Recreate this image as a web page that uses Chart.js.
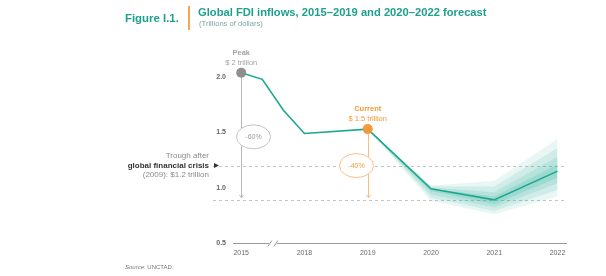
<!DOCTYPE html>
<html>
<head>
<meta charset="utf-8">
<script src="https://cdn.jsdelivr.net/npm/chart.js@4.4.0/dist/chart.umd.min.js"></script>
<style>
  body { margin: 0; background: #fff; width: 606px; height: 276px; overflow: hidden; position: relative; font-family: "Liberation Sans", Arial, sans-serif; }
  #chart { position: absolute; left: 0; top: 0; }
  .fig { position: absolute; left: 125px; top: 12px; font-weight: bold; font-size: 11.4px; color: #1fa08e; }
  .bar { position: absolute; left: 188px; top: 6px; width: 2px; height: 24px; background: #f5a556; }
  .title { position: absolute; left: 198px; top: 6px; font-weight: bold; font-size: 11.2px; color: #1fa08e; white-space: nowrap; }
  .sub { position: absolute; left: 199px; top: 19px; font-size: 7.6px; color: #7fa8a3; white-space: nowrap; }
  .src { position: absolute; left: 125px; top: 264px; font-size: 6px; color: #777; }
  .src i { font-style: italic; }
</style>
</head>
<body>
<canvas id="chart" width="606" height="276"></canvas>
<div class="fig">Figure I.1.</div>
<div class="bar"></div>
<div class="title">Global FDI inflows, 2015–2019 and 2020–2022 forecast</div>
<div class="sub">(Trillions of dollars)</div>
<div class="src"><i>Source:</i> UNCTAD.</div>
<script>
// FDI inflows, trillions of dollars
const years = [2015, 2016, 2017, 2018, 2019, 2020, 2021, 2022];
const fdi = [2.04, 1.98, 1.70, 1.49, 1.53, 0.99, 0.89, 1.15];

// forecast uncertainty band, four layers from outer to inner
const forecastYears = [2019, 2020, 2021, 2022];
const bandHi1 = [1.53, 1.02, 1.06, 1.44];
const bandLo1 = [1.53, 0.88, 0.76, 0.92];
const bandHi2 = [1.53, 1.01, 1.01, 1.36];
const bandLo2 = [1.53, 0.91, 0.79, 0.98];
const bandHi3 = [1.53, 1.00, 0.96, 1.28];
const bandLo3 = [1.53, 0.94, 0.82, 1.04];
const bandHi4 = [1.53, 0.99, 0.92, 1.21];
const bandLo4 = [1.53, 0.97, 0.85, 1.09];

const tickYears = [2015, 2018, 2019, 2020, 2021, 2022];
const yTicks = [0.5, 1.0, 1.5, 2.0];

const troughLevel = 1.2;   // 2009 trough
const lowLevel = 0.89;     // 2021 forecast low
const peakYear = 2015;
const currentYear = 2019;

const TEAL = '#1ca88f';
const ORANGE = '#f39a3c';

// 2015-2018 is squeezed behind an axis break
function axisPos(year) {
  return year <= 2018 ? (year - 2015) / 3 : year - 2017;
}

function toPoints(xs, ys) {
  return xs.map((yr, i) => ({ x: axisPos(yr), y: ys[i] }));
}

function band(hi, lo, alpha) {
  const color = `rgba(28, 168, 143, ${alpha})`;
  return [
    { data: toPoints(forecastYears, hi), borderWidth: 0, pointRadius: 0, fill: '+1', backgroundColor: color },
    { data: toPoints(forecastYears, lo), borderWidth: 0, pointRadius: 0, fill: false }
  ];
}

const annotations = {
  id: 'annotations',
  beforeDatasetsDraw(chart) {
    const { ctx, chartArea: a, scales: { x, y } } = chart;
    ctx.save();

    // dashed reference lines
    ctx.strokeStyle = '#c4c4c4';
    ctx.lineWidth = 1;
    ctx.setLineDash([3, 3]);
    [troughLevel, lowLevel].forEach(v => {
      const py = Math.round(y.getPixelForValue(v)) + 0.5;
      ctx.beginPath();
      ctx.moveTo(213, py);
      ctx.lineTo(a.right, py);
      ctx.stroke();
    });
    ctx.setLineDash([]);

    // x axis line with break
    const by = Math.round(a.bottom) + 0.5;
    const bx = x.getPixelForValue(0.5);
    ctx.strokeStyle = '#9a9a9a';
    ctx.beginPath();
    ctx.moveTo(a.left, by); ctx.lineTo(bx - 4, by);
    ctx.moveTo(bx + 4, by); ctx.lineTo(a.right, by);
    ctx.moveTo(bx - 5, by + 3); ctx.lineTo(bx - 1, by - 3);
    ctx.moveTo(bx + 1, by + 3); ctx.lineTo(bx + 5, by - 3);
    ctx.stroke();

    const lowY = y.getPixelForValue(lowLevel) - 2;

    // drop arrows
    const drop = (year, value, color) => {
      const px = Math.round(x.getPixelForValue(axisPos(year))) + 0.5;
      ctx.strokeStyle = color;
      ctx.beginPath();
      ctx.moveTo(px, y.getPixelForValue(value));
      ctx.lineTo(px, lowY);
      ctx.moveTo(px - 2, lowY - 3);
      ctx.lineTo(px, lowY);
      ctx.lineTo(px + 2, lowY - 3);
      ctx.stroke();
      return px;
    };
    const peakX = drop(peakYear, fdi[years.indexOf(peakYear)], '#b8b8b8');
    const curX = drop(currentYear, fdi[years.indexOf(currentYear)], '#f7bd83');

    // percentage bubbles
    const bubble = (cx, cy, text, stroke, color) => {
      ctx.beginPath();
      ctx.ellipse(cx, cy, 17, 12, 0, 0, Math.PI * 2);
      ctx.fillStyle = '#fff';
      ctx.fill();
      ctx.strokeStyle = stroke;
      ctx.stroke();
      ctx.fillStyle = color;
      ctx.font = '7px "Liberation Sans", Arial, sans-serif';
      ctx.textAlign = 'center';
      ctx.textBaseline = 'middle';
      ctx.fillText(text, cx, cy);
    };
    bubble(peakX + 12, y.getPixelForValue(1.46), '-60%', '#c4c4c4', '#9a9a9a');
    bubble(curX - 12, y.getPixelForValue(troughLevel), '-40%', '#f7c08a', ORANGE);

    // trough note
    const ty = y.getPixelForValue(troughLevel);
    ctx.textAlign = 'right';
    ctx.textBaseline = 'middle';
    ctx.fillStyle = '#8a8a8a';
    ctx.font = '8px "Liberation Sans", Arial, sans-serif';
    ctx.fillText('Trough after', 209, ty - 10);
    ctx.fillText('(2009): $1.2 trillion', 209, ty + 9);
    ctx.fillStyle = '#333';
    ctx.font = 'bold 8px "Liberation Sans", Arial, sans-serif';
    ctx.fillText('global financial crisis', 209, ty);
    ctx.beginPath();
    ctx.moveTo(214, ty - 2.5); ctx.lineTo(219, ty); ctx.lineTo(214, ty + 2.5);
    ctx.closePath();
    ctx.fill();

    ctx.restore();
  },
  afterDatasetsDraw(chart) {
    const { ctx, scales: { x, y } } = chart;
    ctx.save();
    ctx.textAlign = 'center';
    ctx.textBaseline = 'middle';
    const label = (year, head, sub, color) => {
      const px = x.getPixelForValue(axisPos(year));
      const py = y.getPixelForValue(fdi[years.indexOf(year)]);
      ctx.fillStyle = color;
      ctx.font = 'bold 7.5px "Liberation Sans", Arial, sans-serif';
      ctx.fillText(head, px, py - 20);
      ctx.font = '7.5px "Liberation Sans", Arial, sans-serif';
      ctx.fillText(sub, px, py - 10);
    };
    label(peakYear, 'Peak', '$ 2 trillion', '#a3a3a3');
    label(currentYear, 'Current', '$ 1.5 trillion', ORANGE);
    ctx.restore();
  }
};

new Chart(document.getElementById('chart'), {
  type: 'line',
  data: {
    datasets: [
      ...band(bandHi1, bandLo1, 0.1),
      ...band(bandHi2, bandLo2, 0.12),
      ...band(bandHi3, bandLo3, 0.14),
      ...band(bandHi4, bandLo4, 0.17),
      {
        data: toPoints(years, fdi),
        borderColor: TEAL,
        borderWidth: 1.6,
        tension: 0,
        fill: false,
        pointRadius: years.map(yr => (yr === peakYear || yr === currentYear) ? 5 : 0),
        pointBackgroundColor: years.map(yr => yr === peakYear ? '#8e8e8e' : ORANGE),
        pointBorderWidth: 0
      }
    ]
  },
  options: {
    responsive: false,
    animation: false,
    devicePixelRatio: 1,
    layout: { padding: { left: 203, right: 39, top: 55, bottom: 17 } },
    plugins: { legend: { display: false }, tooltip: { enabled: false } },
    scales: {
      x: {
        type: 'linear',
        min: -0.13,
        max: 5.15,
        grid: { display: false, drawTicks: false },
        border: { display: false },
        afterBuildTicks: axis => { axis.ticks = tickYears.map(yr => ({ value: axisPos(yr) })); },
        afterFit: axis => { axis.height = 16; },
        ticks: {
          autoSkip: false,
          maxRotation: 0,
          padding: 6,
          color: '#6a6a6a',
          font: { family: '"Liberation Sans", Arial, sans-serif', size: 7 },
          callback: v => tickYears.find(yr => Math.abs(axisPos(yr) - v) < 1e-6)
        }
      },
      y: {
        min: 0.5,
        max: 2.2,
        grid: { display: false, drawTicks: false },
        border: { display: false },
        afterBuildTicks: axis => { axis.ticks = yTicks.map(v => ({ value: v })); },
        afterFit: axis => { axis.width = 30; },
        ticks: {
          padding: 7,
          color: '#666',
          font: { family: '"Liberation Sans", Arial, sans-serif', size: 7, weight: 'bold' },
          callback: v => v.toFixed(1)
        }
      }
    }
  },
  plugins: [annotations]
});
</script>
</body>
</html>
